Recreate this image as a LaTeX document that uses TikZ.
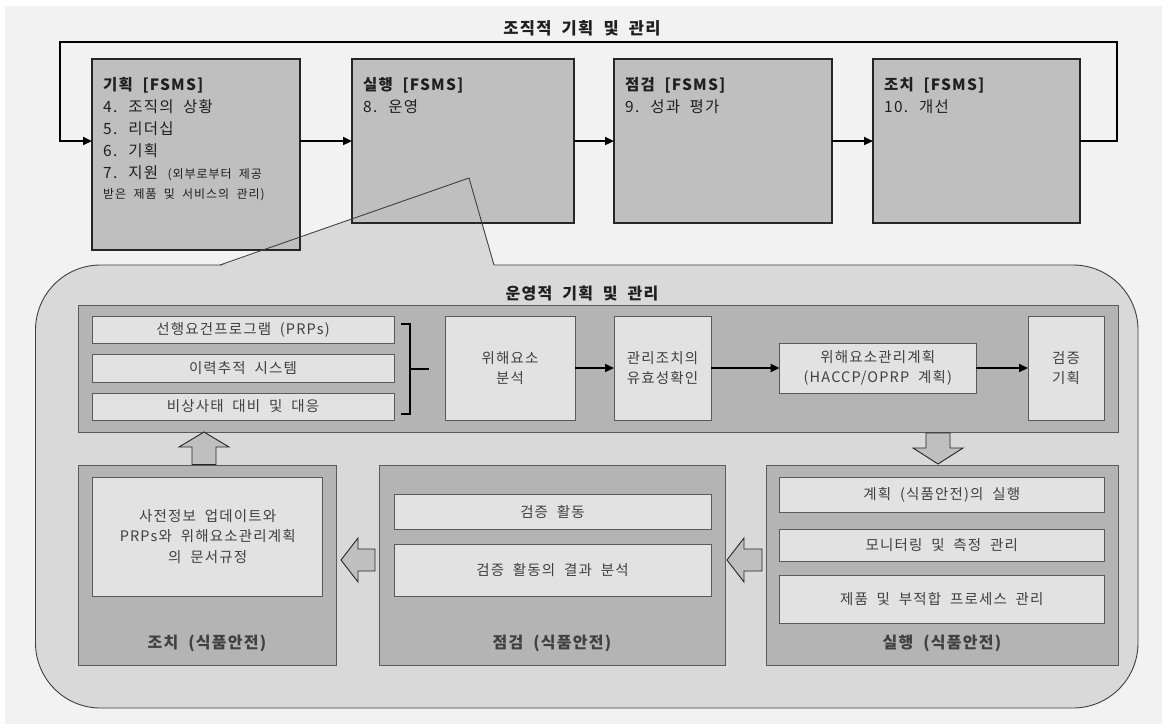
\documentclass[tikz,border=0pt]{standalone}
\usepackage{fontspec}
\setmainfont{Noto Sans CJK KR}[LetterSpace=8,WordSpace=2]
\usetikzlibrary{arrows.meta}
\definecolor{bgc}{HTML}{F2F2F2}
\definecolor{topfill}{HTML}{BFBFBF}
\definecolor{topline}{HTML}{262626}
\definecolor{opsfill}{HTML}{D9D9D9}
\definecolor{opsline}{HTML}{404040}
\definecolor{panelfill}{HTML}{B4B4B4}
\definecolor{panelline}{HTML}{5A5A5A}
\definecolor{innerfill}{HTML}{E2E2E2}
\definecolor{toptext}{HTML}{1F1F1F}
\definecolor{lowtext}{HTML}{404040}
\begin{document}
\begin{tikzpicture}[x=1pt,y=-1pt,
  topbox/.style={draw=topline,fill=topfill,line width=1.1pt,anchor=north west,inner sep=0pt,outer sep=0pt},
  toptxt/.style={anchor=north west,inner sep=0pt,align=left,text=toptext,font=\fontsize{15.5}{22}\selectfont},
  panel/.style={draw=panelline,fill=panelfill,line width=0.8pt,anchor=north west,inner sep=0pt,outer sep=0pt},
  inbox/.style={draw=panelline,fill=innerfill,line width=0.8pt,anchor=north west,inner sep=0pt,outer sep=0pt,align=center,text=lowtext,font=\fontsize{14.5}{20.5}\selectfont},
  lbl/.style={inner sep=0pt,text=lowtext,font=\fontsize{16}{18}\selectfont\bfseries},
  conn/.style={line width=2.2pt,draw=black,-{Triangle[length=9pt,width=8pt]}},
  lconn/.style={line width=2pt,draw=black,-{Triangle[length=9pt,width=8pt]}},
  blockarrow/.style={draw=topline,fill=topfill,line width=0.9pt,line join=miter}
]
\useasboundingbox (0,0) rectangle (1170,724);
% background
\fill[white] (0,0) rectangle (1170,724);
\fill[bgc] (5,6) rectangle (1162,724);

% title
\node[inner sep=0pt,text=toptext,font=\fontsize{16.5}{18}\selectfont\bfseries] (title) at (582,28) {조직적 기획 및 관리};

% operational area (rounded) and callout wedge
\node[draw=opsline,fill=opsfill,line width=0.9pt,rounded corners=65pt,anchor=north west,inner sep=0pt,outer sep=0pt,minimum width=1102.5pt,minimum height=443pt] (ops) at (35.5,265) {};
\coordinate (wl) at (220,265);
\coordinate (wa) at (469,178);
\coordinate (wr) at (494,265);
\fill[opsfill] (220,266.2) -- (wa) -- (494,266.2) -- cycle;

% top boxes
\node[topbox,minimum width=208pt,minimum height=191pt] (b1) at (92,59) {};
\node[topbox,minimum width=222pt,minimum height=164pt] (b2) at (352,59) {};
\node[topbox,minimum width=218pt,minimum height=164pt] (b3) at (614,59) {};
\node[topbox,minimum width=207pt,minimum height=164pt] (b4) at (873,59) {};

\node[toptxt] (t1) at (103,77) {\textbf{기획 [FSMS]}\\4. 조직의 상황\\5. 리더십\\6. 기획\\7. 지원 {\fontsize{12}{20}\selectfont(외부로부터 제공}\\[-2pt]{\fontsize{12}{20}\selectfont 받은 제품 및 서비스의 관리)}};
\node[toptxt] (t2) at (363,77) {\textbf{실행 [FSMS]}\\8. 운영};
\node[toptxt] (t3) at (625,77) {\textbf{점검 [FSMS]}\\9. 성과 평가};
\node[toptxt] (t4) at (884,77) {\textbf{조치 [FSMS]}\\10. 개선};

% wedge lines
\draw[opsline,line width=0.9pt,line join=miter] (wl) -- (wa) -- (wr);

% top connectors
\coordinate (loopR) at (1117,42);
\coordinate (loopL) at (60,42);
\draw[conn] (b4.east) -| (loopR) -- (loopL) |- (b1.west |- b4.east);
\draw[conn] (b1.east |- b2.east) -- (b2.west);
\draw[conn] (b2.east) -- (b3.west);
\draw[conn] (b3.east) -- (b4.west);

% ops title
\node[lbl,font=\fontsize{16}{18}\selectfont\bfseries,text=toptext] (opstitle) at (582,293) {운영적 기획 및 관리};

% upper panel
\node[panel,minimum width=1039.5pt,minimum height=127pt] (pu) at (78.5,305) {};
\node[inbox,minimum width=302pt,minimum height=27pt] (la) at (92,316) {선행요건프로그램 (PRPs)};
\node[inbox,minimum width=302pt,minimum height=28pt] (lb) at (92,354) {이력추적 시스템};
\node[inbox,minimum width=302pt,minimum height=27pt] (lc) at (92,393) {비상사태 대비 및 대응};
\draw[line width=2pt,line join=miter] (401,324) -- (410,324) -- (410,414) -- (401,414);
\draw[line width=2pt] (410,369) -- (429,369);
\node[inbox,minimum width=130pt,minimum height=104pt] (h1) at (445,316) {위해요소\\분석};
\node[inbox,minimum width=97pt,minimum height=104pt] (h2) at (614,316) {관리조치의\\유효성확인};
\node[inbox,minimum width=196.4pt,minimum height=50pt] (h3) at (779.6,343) {위해요소관리계획\\(HACCP/OPRP 계획)};
\node[inbox,minimum width=76pt,minimum height=104pt] (h4) at (1028,316) {검증\\기획};
\draw[lconn] (h1.east |- h3.west) -- (h2.west |- h3.west);
\draw[lconn] (h2.east |- h3.west) -- (h3.west);
\draw[lconn] (h3.east) -- (h4.west |- h3.east);

% bottom panels
\node[panel,minimum width=257.5pt,minimum height=200pt] (pA) at (78.5,465) {};
\node[panel,minimum width=346pt,minimum height=200pt] (pB) at (379,465) {};
\node[panel,minimum width=352pt,minimum height=200pt] (pC) at (766,465) {};

\node[inbox,minimum width=230pt,minimum height=119pt] (a1) at (92.7,477) {사전정보 업데이트와\\PRPs와 위해요소관리계획\\의 문서규정};
\node[inbox,minimum width=317pt,minimum height=35pt] (bi1) at (394,494) {검증 활동};
\node[inbox,minimum width=317pt,minimum height=52pt] (bi2) at (394,544) {검증 활동의 결과 분석};
\node[inbox,minimum width=324.4pt,minimum height=35pt] (c1) at (779.6,477) {계획 (식품안전)의 실행};
\node[inbox,minimum width=324.4pt,minimum height=32pt] (c2) at (779.6,529) {모니터링 및 측정 관리};
\node[inbox,minimum width=324.4pt,minimum height=48pt] (c3) at (779.6,575) {제품 및 부적합 프로세스 관리};

\node[lbl] (lA) at (207,643) {조치 (식품안전)};
\node[lbl] (lB) at (552,643) {점검 (식품안전)};
\node[lbl] (lC) at (942,643) {실행 (식품안전)};

% block arrows
\draw[blockarrow] (926,433) -- (950,433) -- (950,448) -- (963,448) -- (938,464) -- (913,448) -- (926,448) -- cycle;
\draw[blockarrow] (204,432) -- (229,447) -- (216,447) -- (216,464.5) -- (192,464.5) -- (192,447) -- (179,447) -- cycle;
\draw[blockarrow] (727,560) -- (744,538) -- (744,549) -- (762,549) -- (762,571) -- (744,571) -- (744,582) -- cycle;
\draw[blockarrow] (341,560) -- (358,538) -- (358,549) -- (375,549) -- (375,571) -- (358,571) -- (358,582) -- cycle;
\end{tikzpicture}
\end{document}
